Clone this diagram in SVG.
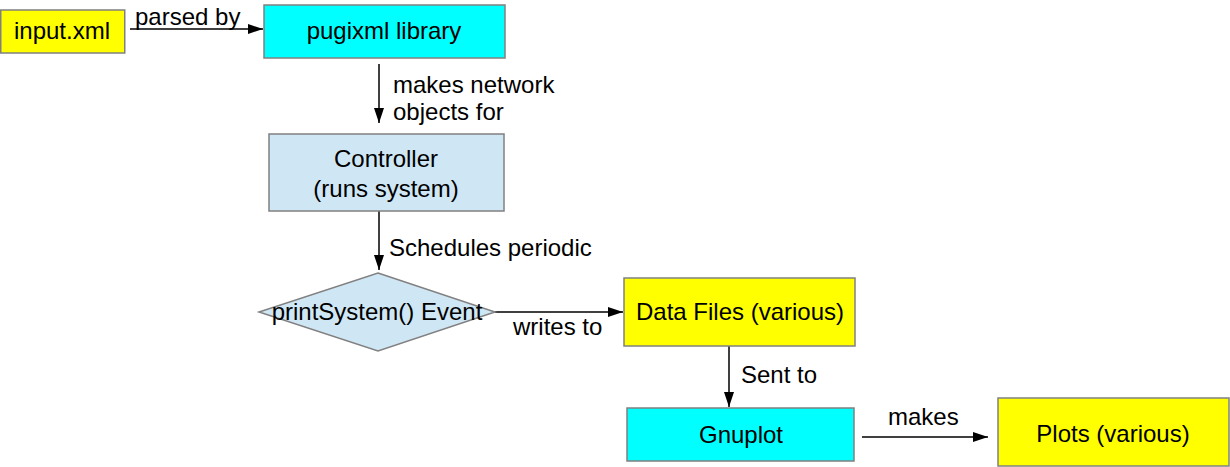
<svg xmlns="http://www.w3.org/2000/svg" width="1230" height="467" viewBox="0 0 1230 467">
<style>
text{font-family:"Liberation Sans",Arial,sans-serif;font-size:24px;fill:#000}
.c{text-anchor:middle}
.box{stroke:#808080;stroke-width:1.5}
.y{fill:#ffff00}.cy{fill:#00ffff}.lb{fill:#cfe7f5}
.ln{stroke:#000;stroke-width:1.5;fill:none;marker-end:url(#ah)}
</style>
<defs>
<marker id="ah" markerUnits="userSpaceOnUse" markerWidth="15" markerHeight="11" refX="15" refY="5.5" orient="auto">
<path d="M0,0.5 L15,5.5 L0,10.5 Z" fill="#000"/>
</marker>
</defs>
<rect width="1230" height="467" fill="#fff"/>
<g id="connectors">
<line class="ln" x1="130" y1="29" x2="263" y2="29"/>
<line class="ln" x1="379" y1="64" x2="379" y2="123"/>
<line class="ln" x1="379" y1="211" x2="379" y2="270"/>
<line class="ln" x1="495" y1="312" x2="623" y2="312"/>
<line class="ln" x1="729" y1="346" x2="729" y2="407"/>
<line class="ln" x1="862" y1="437" x2="988" y2="437"/>
<text x="135" y="25">parsed by</text>
<text x="393" y="93">makes network</text>
<text x="393" y="120">objects for</text>
<text x="389" y="256">Schedules periodic</text>
<text x="513" y="335">writes to</text>
<text x="741" y="383">Sent to</text>
<text x="888" y="425">makes</text>
</g>
<g id="input">
<rect class="box y" x="0.75" y="10" width="124" height="43"/>
<text class="c" x="62" y="39">input.xml</text>
</g>
<g id="pugixml">
<rect class="box cy" x="264" y="5" width="241" height="53"/>
<text class="c" x="384" y="39">pugixml library</text>
</g>
<g id="controller">
<rect class="box lb" x="269" y="134" width="235" height="77"/>
<text class="c" x="386" y="167">Controller</text>
<text class="c" x="386" y="197">(runs system)</text>
</g>
<g id="event">
<polygon class="box lb" points="378,273 495,312 378,351 259,312"/>
<text class="c" x="377" y="320">printSystem() Event</text>
</g>
<g id="datafiles">
<rect class="box y" x="624" y="278" width="231" height="68"/>
<text class="c" x="740" y="320">Data Files (various)</text>
</g>
<g id="gnuplot">
<rect class="box cy" x="627" y="408" width="227" height="53"/>
<text class="c" x="741" y="443">Gnuplot</text>
</g>
<g id="plots">
<rect class="box y" x="998" y="398" width="231" height="68"/>
<text class="c" x="1113" y="442">Plots (various)</text>
</g>
</svg>
